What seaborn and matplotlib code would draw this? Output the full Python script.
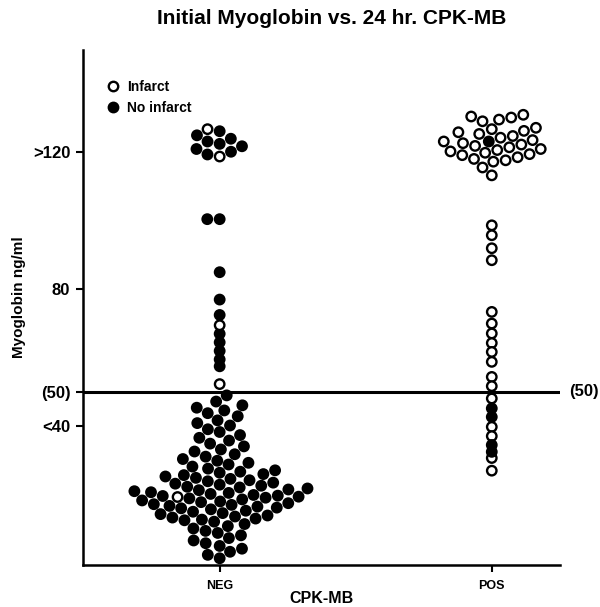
import numpy as np
import pandas as pd
import matplotlib
matplotlib.use("Agg")
import matplotlib.pyplot as plt
import seaborn as sns
from matplotlib.lines import Line2D
from matplotlib.transforms import blended_transform_factory

# ---------------- data ----------------
categories = ["NEG", "POS"]
groups = ["Infarct", "No infarct"]

# values packed as swarms (clusters)
neg_cluster_noinf = [
    49.0,
    47.2, 46.1, 45.4, 44.6,
    43.8, 42.9, 41.7, 40.9,
    40.2, 39.1, 38.3, 37.4,
    36.6, 35.8, 34.9, 34.1,
    33.2, 32.6, 31.8, 31.1, 30.4,
    29.9, 29.3, 28.8, 28.2, 27.6, 27.1, 26.7,
    26.4, 26.0, 25.7, 25.3, 24.9, 24.6, 24.2, 23.9, 23.5, 23.2,
    22.9, 22.6, 22.3, 22.1, 21.8, 21.5, 21.3, 21.0, 20.7, 20.5, 20.2, 19.9, 19.7, 19.6,
    19.4, 19.1, 18.9, 18.6, 18.3, 18.0, 17.8, 17.5, 17.2, 17.0, 16.7, 16.5, 16.2, 16.0,
    15.7, 15.3, 15.0, 14.6, 14.3, 13.9, 13.6, 13.3, 13.0, 12.7, 12.5,
    12.1, 11.4, 10.8, 10.1, 9.4,
    8.8, 8.1, 7.3, 6.6, 5.8,
    5.0, 4.2, 3.3, 2.4,
    1.4,
]
neg_cluster_inf = [19.3]
neg_high_noinf = [126.2, 125.0, 124.0, 123.2, 122.5, 121.8, 121.0, 120.2, 119.4,
                  100.5, 100.5, 85.0]
neg_high_inf = [126.8, 118.8]
pos_high_inf = [
    131.0, 130.5, 130.2, 129.6, 129.1,
    127.2, 126.8, 126.3, 125.9, 125.4,
    124.8, 124.3,
    123.6, 123.2, 122.7, 122.3, 121.9,
    121.5,
    121.0, 120.7, 120.3, 119.9, 119.5, 119.2,
    118.6, 118.1, 117.7, 117.3,
    115.6,
    113.3,
]
pos_high_noinf = [123.2]

# values stacked in a single column
neg_col_noinf = [77.0, 72.5, 67.0, 64.5, 62.0, 59.5, 57.5]
neg_col_inf = [69.5, 52.3]
pos_col_inf = [98.7, 95.8, 92.0, 88.5, 73.4, 70.0, 67.1, 64.3, 61.7, 58.8,
               54.4, 51.7, 48.1, 39.8, 37.1, 30.7, 27.0]
pos_col_noinf = [45.2, 42.7, 34.5, 32.5]

threshold = 50
yticks = [40, 50, 80, 120]
ytick_labels = ["<40", "(50)", "80", ">120"]
title = "Initial Myoglobin vs. 24 hr. CPK-MB"


def frame(cat, grp, vals):
    return pd.DataFrame({"CPK-MB": cat, "status": grp, "myo": vals})


swarm_df = pd.concat([
    frame("NEG", "No infarct", neg_cluster_noinf),
    frame("NEG", "Infarct", neg_cluster_inf),
    frame("NEG", "No infarct", neg_high_noinf),
    frame("NEG", "Infarct", neg_high_inf),
    frame("POS", "Infarct", pos_high_inf),
    frame("POS", "No infarct", pos_high_noinf),
], ignore_index=True)

col_df = pd.concat([
    frame("NEG", "No infarct", neg_col_noinf),
    frame("NEG", "Infarct", neg_col_inf),
    frame("POS", "Infarct", pos_col_inf),
    frame("POS", "No infarct", pos_col_noinf),
], ignore_index=True)

# ---------------- style ----------------
sns.set_theme(style="ticks")
plt.rcParams["font.family"] = ["Liberation Sans", "DejaVu Sans"]
plt.rcParams["font.weight"] = "bold"
for k in ("text.color", "axes.labelcolor", "xtick.color", "ytick.color"):
    plt.rcParams[k] = "black"

fig = plt.figure(figsize=(6.0, 6.07), dpi=100)
ax = fig.add_axes([0.138, 0.069, 0.795, 0.849])

palette = {"Infarct": "white", "No infarct": "black"}
msize = 6.8
mlw = 1.7
common = dict(x="CPK-MB", y="myo", hue="status", order=categories,
              palette=palette, edgecolor="black", linewidth=mlw,
              size=msize, legend=False, ax=ax)

sns.swarmplot(data=swarm_df, hue_order=groups, **common)
sns.stripplot(data=col_df, hue_order=groups[::-1], jitter=False, **common)

ax.axhline(threshold, color="black", lw=2.2, zorder=1)

ax.set_xlim(-0.503, 1.25)
ax.set_ylim(-0.6, 150)
ax.set_yticks(yticks)
ax.set_yticklabels(ytick_labels, fontsize=12, fontweight="bold")
ax.set_xticks([0, 1])
ax.set_xticklabels(categories, fontsize=9, fontweight="bold")
ax.tick_params(axis="both", length=5, width=1.5, color="black")
ax.tick_params(axis="x", pad=6)
ax.tick_params(axis="y", pad=4)

sns.despine(ax=ax)
for s in ("left", "bottom"):
    ax.spines[s].set_linewidth(1.8)
    ax.spines[s].set_color("black")

ax.set_xlabel("CPK-MB", fontsize=11.5, fontweight="bold")
ax.xaxis.set_label_coords(0.5, -0.05)
ax.set_ylabel("Myoglobin ng/ml", fontsize=11, fontweight="bold")
ax.yaxis.set_label_coords(-0.12, 0.52)

trans = blended_transform_factory(ax.transAxes, ax.transData)
ax.text(1.02, threshold, "(50)", transform=trans, ha="left", va="center",
        fontsize=12, fontweight="bold")

handles = [
    Line2D([], [], marker="o", ls="", markerfacecolor="white", markeredgecolor="black",
           markersize=msize, markeredgewidth=mlw, label="Infarct"),
    Line2D([], [], marker="o", ls="", markerfacecolor="black", markeredgecolor="black",
           markersize=msize, markeredgewidth=mlw, label="No infarct"),
]
ax.legend(handles=handles, loc="upper left", bbox_to_anchor=(0.02, 0.965),
          frameon=False, prop={"size": 10, "weight": "bold"},
          handletextpad=0.4, labelspacing=0.45, handlelength=1.2)

fig.text(332 / 600, 1 - 19 / 607, title, ha="center", va="center",
         fontsize=15, fontweight="bold")

fig.savefig("out.png", dpi=100)
